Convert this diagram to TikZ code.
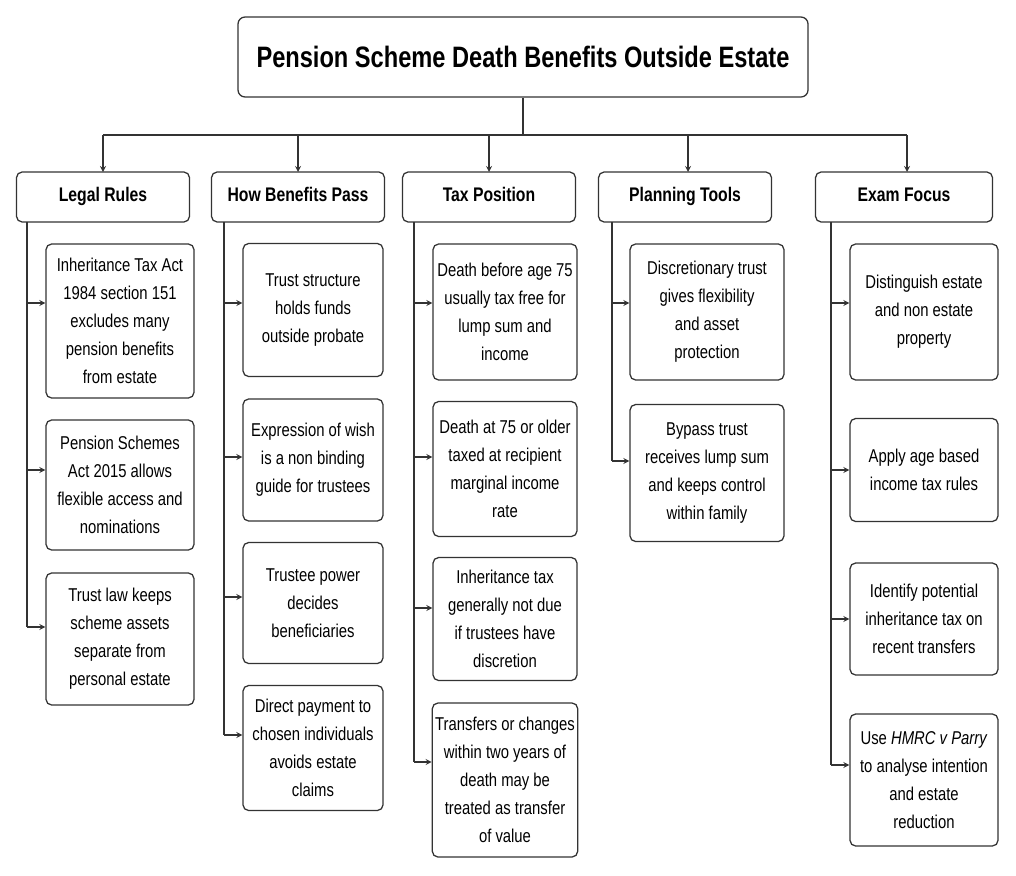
\documentclass[tikz,border=0pt]{standalone}
\usepackage{fontspec}
\setmainfont{Liberation Sans}[FakeStretch=0.8]
\begin{document}
\begin{tikzpicture}
[x=0.025cm, y=-0.025cm, line width=0.9pt, draw=black!80,
title/.style={rectangle, draw, rounded corners=5pt, minimum width=570*0.025cm, minimum height=80*0.025cm, font=\fontsize{21}{24}\selectfont\bfseries},
head/.style={rectangle, draw, rounded corners=4pt, minimum width=173*0.025cm, minimum height=50*0.025cm, text height=10pt, text depth=3pt, font=\fontsize{14}{16}\selectfont\bfseries},
leaf/.style={rectangle, draw, rounded corners=4pt, align=center, inner sep=2pt, font=\fontsize{13.2}{20}\selectfont},
link/.style={->, >=stealth}]

\useasboundingbox (0,0) rectangle (1016,875);

\node[title] (title) at (523,57) {Pension Scheme Death Benefits Outside Estate};

\node[head] (legal) at (103,197) {Legal Rules};
\node[head] (pass) at (298,197) {How Benefits Pass};
\node[head] (tax) at (489,197) {Tax Position};
\node[head, minimum width=173*0.025cm] (plan) at (685,197) {Planning Tools};
\node[head, minimum width=177*0.025cm] (exam) at (904,197) {Exam Focus};

% bus from title to headers
\coordinate (bus) at (523,135);
\draw (title.south) -- (bus);
\draw (103,135) -- (907,135);
\foreach \x/\h in {103/legal,298/pass,489/tax,688/plan,907/exam}
  \draw[link] (\x,135) -- (\x,172);

% legal rules
\node[leaf, minimum width=148*0.025cm, minimum height=154*0.025cm] (legal1) at (120,321) {Inheritance Tax Act\\1984 section 151\\excludes many\\pension benefits\\from estate};
\node[leaf, minimum width=148*0.025cm, minimum height=130*0.025cm] (legal2) at (120,485) {Pension Schemes\\Act 2015 allows\\flexible access and\\nominations};
\node[leaf, minimum width=148*0.025cm, minimum height=132*0.025cm] (legal3) at (120,639) {Trust law keeps\\scheme assets\\separate from\\personal estate};

% how benefits pass
\node[leaf, minimum width=140*0.025cm, minimum height=133*0.025cm] (pass1) at (313,310) {Trust structure\\holds funds\\outside probate};
\node[leaf, minimum width=140*0.025cm, minimum height=122*0.025cm] (pass2) at (313,460) {Expression of wish\\is a non binding\\guide for trustees};
\node[leaf, minimum width=140*0.025cm, minimum height=121*0.025cm] (pass3) at (313,603) {Trustee power\\decides\\beneficiaries};
\node[leaf, minimum width=140*0.025cm, minimum height=125*0.025cm] (pass4) at (313,748) {Direct payment to\\chosen individuals\\avoids estate\\claims};

% tax position
\node[leaf, minimum width=144*0.025cm, minimum height=136*0.025cm] (tax1) at (505,312) {Death before age 75\\usually tax free for\\lump sum and\\income};
\node[leaf, minimum width=144*0.025cm, minimum height=135*0.025cm] (tax2) at (505,469) {Death at 75 or older\\taxed at recipient\\marginal income\\rate};
\node[leaf, minimum width=144*0.025cm, minimum height=123*0.025cm] (tax3) at (505,619) {Inheritance tax\\generally not due\\if trustees have\\discretion};
\node[leaf, minimum width=144*0.025cm, minimum height=154*0.025cm] (tax4) at (505,780) {Transfers or changes\\within two years of\\death may be\\treated as transfer\\of value};

% planning tools
\node[leaf, minimum width=154*0.025cm, minimum height=136*0.025cm] (plan1) at (707,312) {Discretionary trust\\gives flexibility\\and asset\\protection};
\node[leaf, minimum width=154*0.025cm, minimum height=137*0.025cm] (plan2) at (707,473) {Bypass trust\\receives lump sum\\and keeps control\\within family};

% exam focus
\node[leaf, minimum width=148*0.025cm, minimum height=136*0.025cm] (exam1) at (924,312) {Distinguish estate\\and non estate\\property};
\node[leaf, minimum width=148*0.025cm, minimum height=103*0.025cm] (exam2) at (924,470) {Apply age based\\income tax rules};
\node[leaf, minimum width=148*0.025cm, minimum height=112*0.025cm] (exam3) at (924,619) {Identify potential\\inheritance tax on\\recent transfers};
\node[leaf, minimum width=148*0.025cm, minimum height=132*0.025cm] (exam4) at (924,780) {Use \textit{HMRC v Parry}\\to analyse intention\\and estate\\reduction};

% spines and branches
\draw (27,222) -- (27,627);
\foreach \n/\y in {legal1/303,legal2/470,legal3/627}
  \draw[link] (27,\y) -- (\n.west |- 0,\y);
\draw (224,222) -- (224,735);
\foreach \n/\y in {pass1/303,pass2/457,pass3/597,pass4/735}
  \draw[link] (224,\y) -- (\n.west |- 0,\y);
\draw (414,222) -- (414,762);
\foreach \n/\y in {tax1/303,tax2/457,tax3/608,tax4/762}
  \draw[link] (414,\y) -- (\n.west |- 0,\y);
\draw (612,222) -- (612,461);
\foreach \n/\y in {plan1/303,plan2/461}
  \draw[link] (612,\y) -- (\n.west |- 0,\y);
\draw (831,222) -- (831,765);
\foreach \n/\y in {exam1/303,exam2/470,exam3/619,exam4/765}
  \draw[link] (831,\y) -- (\n.west |- 0,\y);
\end{tikzpicture}
\end{document}
